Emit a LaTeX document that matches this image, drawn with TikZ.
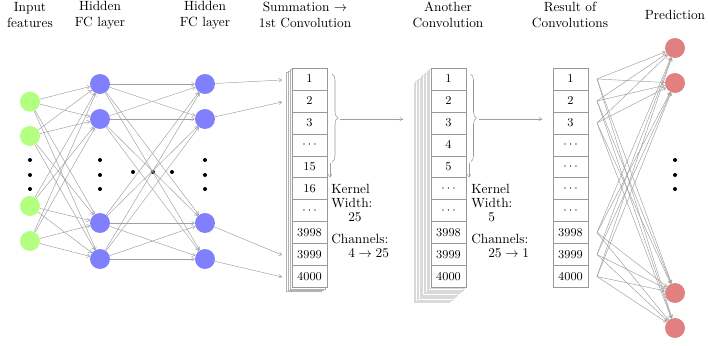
\documentclass[tikz,border=0pt]{standalone}
\usetikzlibrary{decorations.pathreplacing,arrows.meta}
\definecolor{inputgreen}{HTML}{B3FF80}
\definecolor{hiddenblue}{HTML}{8080FF}
\definecolor{outred}{HTML}{E08080}
\begin{document}
\begin{tikzpicture}[x=0.75pt,y=-0.75pt,
  neuron/.style={circle,minimum size=15pt,inner sep=0pt},
  inp/.style={neuron,fill=inputgreen},
  hid/.style={neuron,fill=hiddenblue},
  outp/.style={neuron,fill=outred},
  conn/.style={draw=gray!75,line width=0.35pt,-{To[length=2.5pt,width=3pt]}},
  cell/.style={draw=gray!80,fill=white,minimum width=26.25pt,minimum height=16.46pt,inner sep=0pt,font=\small},
  backA/.style={draw=gray!60,fill=white,line width=0.4pt},
  backB/.style={draw=gray!30,fill=white,line width=0.4pt},
  title/.style={align=center},
  dotn/.style={circle,fill=black,inner sep=0pt,minimum size=3pt},
  note/.style={align=left,anchor=north west,inner sep=0pt},
  bracestyle/.style={draw=gray!80,line width=0.4pt,decorate,decoration={brace,amplitude=4.5pt}}]
\useasboundingbox (0,0) rectangle (708,346);

% titles
\node[title] (t1) at (30,15) {Input\\features};
\node[title] (t2) at (100,15) {Hidden\\FC layer};
\node[title] (t3) at (205,15) {Hidden\\FC layer};
\node[title] (t4) at (305,15) {Summation $\rightarrow$\\1st Convolution};
\node[title] (t5) at (448,15) {Another\\Convolution};
\node[title] (t6) at (570,15) {Result of\\Convolutions};
\node[title] (t7) at (675,15) {Prediction};

% neurons
\foreach \n/\y in {1/101.7,2/136,3/206,4/241}
  \node[inp] (i\n) at (30,\y) {};
\foreach \n/\y in {1/84,2/119,3/223,4/259}{
  \node[hid] (h\n) at (100,\y) {};
  \node[hid] (g\n) at (205,\y) {};
}
\foreach \n/\y in {1/48,2/83,3/293,4/328}
  \node[outp] (p\n) at (675,\y) {};

% vertical dots
\foreach \x/\c in {30/a,100/b,205/c,675/d}
  \foreach \y/\k in {160/1,175/2,189/3}
    \node[dotn] (d\c\k) at (\x,\y) {};
% horizontal dots
\foreach \x/\k in {133/1,153/2,172/3}
  \node[dotn] (dh\k) at (\x,172) {};

% FC connections
\foreach \a in {1,...,4}
  \foreach \b in {1,...,4}{
    \draw[conn] (i\a) -- (h\b);
    \draw[conn] (h\a) -- (g\b);
  }

% block 1 (back copies)
\foreach \k in {3,2,1}
  \draw[backA] (292-2*\k,68+1.4*\k) rectangle (327-2*\k,287.5+1.4*\k);
\foreach \lab [count=\k] in {1,2,3,$\cdots$,15,16,$\cdots$,3998,3999,4000}
  \node[cell] (a\k) at (309.5,{68+21.95*(\k-0.5)}) {\lab};

% block 2 (back copies)
\foreach \k in {12,11,...,1}
  \draw[backB] (431-1.4*\k,68+1.25*\k) rectangle (466-1.4*\k,287.5+1.25*\k);
\foreach \lab [count=\k] in {1,2,3,4,5,$\cdots$,$\cdots$,3998,3999,4000}
  \node[cell] (b\k) at (448.5,{68+21.95*(\k-0.5)}) {\lab};

% block 3
\foreach \lab [count=\k] in {1,2,3,$\cdots$,$\cdots$,$\cdots$,$\cdots$,3998,3999,4000}
  \node[cell] (c\k) at (570.5,{68+21.95*(\k-0.5)}) {\lab};

% hidden 2 -> block 1
\coordinate (e1) at (282,80);
\coordinate (e2) at (282,102);
\coordinate (e3) at (282,255);
\coordinate (e4) at (282,277);
\foreach \n in {1,...,4}
  \draw[conn] (g\n) -- (e\n);

% braces and arrows
\coordinate (br1t) at (332,74);
\coordinate (br1b) at (332,162);
\draw[bracestyle] (br1t) -- (br1b);
\coordinate (br1tip) at (340,119);
\coordinate (br1end) at (403,119);
\draw[conn] (br1tip) -- (br1end);
\coordinate (dn1s) at (330,163);
\coordinate (dn1e) at (330,177.5);
\draw[conn] (dn1s) -- (dn1e);

\coordinate (br2t) at (470.5,74);
\coordinate (br2b) at (470.5,162);
\draw[bracestyle] (br2t) -- (br2b);
\coordinate (br2tip) at (479,119);
\coordinate (br2end) at (542,119);
\draw[conn] (br2tip) -- (br2end);
\coordinate (dn2s) at (469,163);
\coordinate (dn2e) at (469,177.5);
\draw[conn] (dn2s) -- (dn2e);

% notes
\node[note] (n1a) at (331,183.5) {Kernel\\[-1.5pt]Width:\\[-1.5pt]\hspace*{12.75pt}25};
\node[note] (n1b) at (331,233.5) {Channels:\\[-1.5pt]\hspace*{12.75pt}$4\rightarrow25$};
\node[note] (n2a) at (471,183.5) {Kernel\\[-1.5pt]Width:\\[-1.5pt]\hspace*{12.75pt}5};
\node[note] (n2b) at (471,233.5) {Channels:\\[-1.5pt]\hspace*{12.75pt}$25\rightarrow1$};

% result -> prediction
\foreach \k/\r in {1/1,2/2,3/3,4/8,5/9,6/10}
  \coordinate (o\k) at (597,{68+21.95*(\r-0.5)});
\foreach \k in {1,...,6}
  \foreach \p in {1,...,4}
    \draw[conn] (o\k) -- (p\p);
\end{tikzpicture}
\end{document}
